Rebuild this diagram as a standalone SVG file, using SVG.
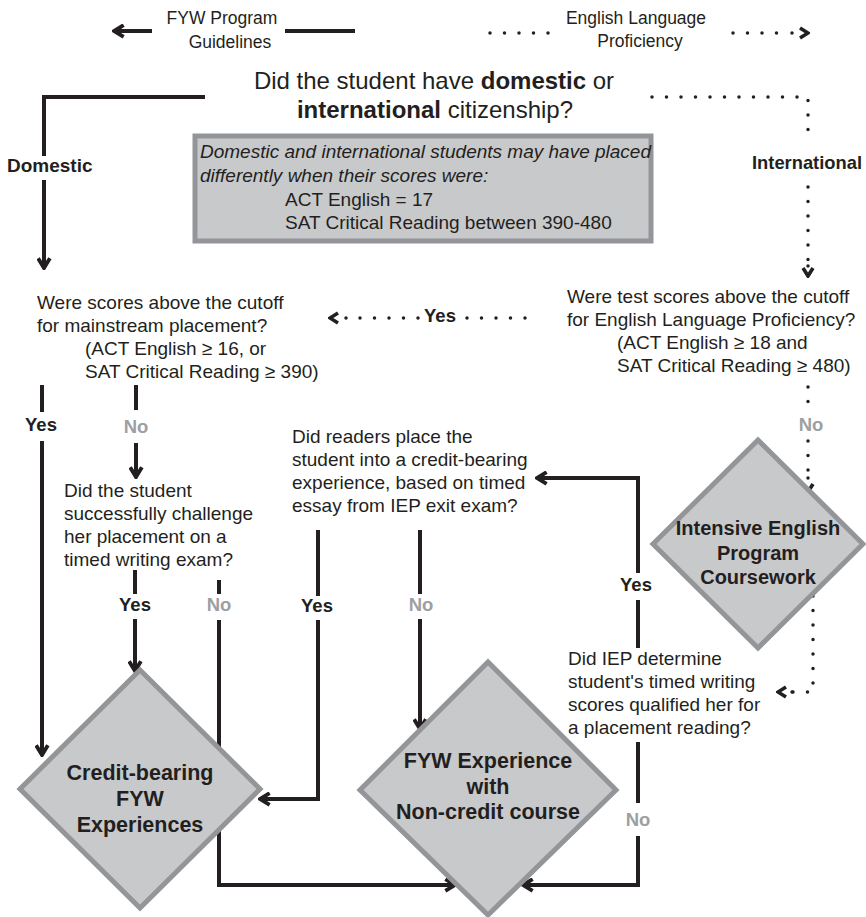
<svg xmlns="http://www.w3.org/2000/svg" width="866" height="917" viewBox="0 0 866 917">
<defs>
<style>
text{font-family:"Liberation Sans",Arial,sans-serif;fill:#231f20;}
.q{font-size:19px;}
.h{font-size:24px;}
.lab{font-size:17.5px;text-anchor:middle;}
.it{font-size:19px;font-style:italic;}
.b{font-size:19px;font-weight:bold;}
.y{font-size:18.5px;font-weight:bold;text-anchor:middle;}
.n{font-size:18.5px;font-weight:bold;text-anchor:middle;fill:#9d9fa2;}
.d{font-size:21.5px;font-weight:bold;text-anchor:middle;}
.d2{font-size:20px;font-weight:bold;text-anchor:middle;}
.solid{fill:none;stroke:#231f20;stroke-width:4;stroke-linejoin:miter;}
.dot{fill:none;stroke:#231f20;stroke-width:3.5;stroke-dasharray:0 14.5;stroke-linecap:round;}
.dia{fill:#c8c9cb;stroke:#939598;stroke-width:5;}
.box{fill:#c8c9cb;stroke:#939598;stroke-width:5;}
</style>
<marker id="arr" viewBox="0 0 14 14" refX="12" refY="7" markerWidth="15" markerHeight="15" markerUnits="userSpaceOnUse" orient="auto">
<path d="M3,1.5 L12,7 L3,12.5" fill="none" stroke="#231f20" stroke-width="3.6"/>
</marker>
<marker id="darr" viewBox="0 0 14 14" refX="12" refY="7" markerWidth="14" markerHeight="14" markerUnits="userSpaceOnUse" orient="auto">
<path d="M4,2 L12,7 L4,12" fill="none" stroke="#231f20" stroke-width="3.6"/>
</marker>
</defs>

<g id="connectors">
<!-- legend -->
<path class="solid" d="M152,31 H114" marker-end="url(#arr)"/>
<path class="solid" d="M285,31 H355"/>
<path class="dot" d="M490,33 H562"/>
<path class="dot" d="M733,33 H791"/>
<path class="dot" d="M792,33 H808" stroke-width="0" marker-end="url(#darr)"/>
<!-- domestic -->
<path class="solid" d="M205,97 H44 V156"/>
<path class="solid" d="M44,180 V268" marker-end="url(#arr)"/>
<!-- international -->
<path class="dot" d="M652,97 H808 V142"/>
<path class="dot" d="M808,187 V266"/>
<path class="dot" d="M808,266 V276" stroke-width="0" marker-end="url(#darr)"/>
<!-- ELP yes -->
<path class="dot" d="M525,318 H465"/>
<path class="dot" d="M418,318 H346"/>
<path class="dot" d="M346,318 H330" stroke-width="0" marker-end="url(#darr)"/>
<!-- ELP no -->
<path class="dot" d="M808,387 V412"/>
<path class="dot" d="M808,441 V484"/>
<path class="dot" d="M808,478 V492" stroke-width="0" marker-end="url(#darr)"/>
<!-- IEP to question -->
<path class="dot" d="M813,596 V692 H792"/>
<path class="dot" d="M792,692 H778" stroke-width="0" marker-end="url(#darr)"/>
<!-- IEP yes -->
<path class="solid" d="M638,648 V600"/>
<path class="solid" d="M638,573 V478 H537" marker-end="url(#arr)"/>
<!-- IEP no -->
<path class="solid" d="M638,742 V803"/>
<path class="solid" d="M638,836 V885 H523" marker-end="url(#arr)"/>
<!-- readers yes -->
<path class="solid" d="M318,530 V596"/>
<path class="solid" d="M318,620 V799 H260" marker-end="url(#arr)"/>
<!-- readers no -->
<path class="solid" d="M420,530 V594"/>
<path class="solid" d="M420,619 V729" marker-end="url(#arr)"/>
<!-- mainstream yes -->
<path class="solid" d="M42,385 V412"/>
<path class="solid" d="M42,441 V755" marker-end="url(#arr)"/>
<!-- mainstream no -->
<path class="solid" d="M136,385 V410"/>
<path class="solid" d="M136,443 V477" marker-end="url(#arr)"/>
<!-- challenge yes -->
<path class="solid" d="M135,570 V594"/>
<path class="solid" d="M135,619 V671" marker-end="url(#arr)"/>
<!-- challenge no -->
<path class="solid" d="M219,580 V594"/>
<path class="solid" d="M219,620 V885 H455" marker-end="url(#arr)"/>
</g>

<g id="labels">
<text class="lab" x="222" y="24">FYW Program</text>
<text class="lab" x="230" y="48">Guidelines</text>
<text class="lab" x="636" y="24">English Language</text>
<text class="lab" x="640" y="47">Proficiency</text>
<text class="b" x="7" y="172">Domestic</text>
<text class="b" x="752" y="169" textLength="110" lengthAdjust="spacingAndGlyphs">International</text>
<text class="y" x="440" y="322">Yes</text>
<text class="n" x="811" y="431">No</text>
<text class="y" x="41" y="431">Yes</text>
<text class="n" x="136" y="433">No</text>
<text class="y" x="135" y="611">Yes</text>
<text class="n" x="219" y="611">No</text>
<text class="y" x="317" y="612">Yes</text>
<text class="n" x="421" y="611">No</text>
<text class="y" x="636" y="591">Yes</text>
<text class="n" x="638" y="826">No</text>
</g>

<g id="q-citizenship">
<text class="h" x="434" y="89" text-anchor="middle">Did the student have <tspan font-weight="bold">domestic</tspan> or</text>
<text class="h" x="435" y="118" text-anchor="middle"><tspan font-weight="bold">international</tspan> citizenship?</text>
</g>

<g id="note">
<rect class="box" x="195" y="136" width="456" height="105"/>
<text class="it" x="200" y="158">Domestic and international students may have placed</text>
<text class="it" x="200" y="182">differently when their scores were:</text>
<text class="q" x="285" y="206">ACT English = 17</text>
<text class="q" x="285" y="229">SAT Critical Reading between 390-480</text>
</g>

<g id="q-mainstream">
<text class="q" x="37" y="309">Were scores above the cutoff</text>
<text class="q" x="37" y="332">for mainstream placement?</text>
<text class="q" x="85" y="355">(ACT English ≥ 16, or</text>
<text class="q" x="85" y="378">SAT Critical Reading ≥ 390)</text>
</g>

<g id="q-elp">
<text class="q" x="567" y="303">Were test scores above the cutoff</text>
<text class="q" x="567" y="326">for English Language Proficiency?</text>
<text class="q" x="617" y="349">(ACT English ≥ 18 and</text>
<text class="q" x="617" y="372">SAT Critical Reading ≥ 480)</text>
</g>

<g id="q-challenge">
<text class="q" x="64" y="497">Did the student</text>
<text class="q" x="64" y="520">successfully challenge</text>
<text class="q" x="64" y="543">her placement on  a</text>
<text class="q" x="64" y="566">timed writing exam?</text>
</g>

<g id="q-readers">
<text class="q" x="292" y="443">Did readers place the</text>
<text class="q" x="292" y="466">student into a credit-bearing</text>
<text class="q" x="292" y="489">experience, based on timed</text>
<text class="q" x="292" y="512">essay from IEP exit exam?</text>
</g>

<g id="q-iep">
<text class="q" x="568" y="665">Did IEP determine</text>
<text class="q" x="568" y="688">student's timed writing</text>
<text class="q" x="568" y="711">scores qualified her for</text>
<text class="q" x="568" y="734">a placement reading?</text>
</g>

<g id="iep-coursework">
<polygon class="dia" points="758,440 863,544 758,648 653,544"/>
<text class="d2" x="758" y="535">Intensive English</text>
<text class="d2" x="758" y="560">Program</text>
<text class="d2" x="758" y="584">Coursework</text>
</g>

<g id="credit-bearing">
<polygon class="dia" points="140,670 260,789 140,908 20,789"/>
<text class="d" x="140" y="780">Credit-bearing</text>
<text class="d" x="140" y="806">FYW</text>
<text class="d" x="140" y="832">Experiences</text>
</g>

<g id="non-credit">
<polygon class="dia" points="488,662 616,790 488,915 360,790"/>
<text class="d" x="488" y="768">FYW Experience</text>
<text class="d" x="488" y="794">with</text>
<text class="d" x="488" y="819">Non-credit course</text>
</g>
</svg>
